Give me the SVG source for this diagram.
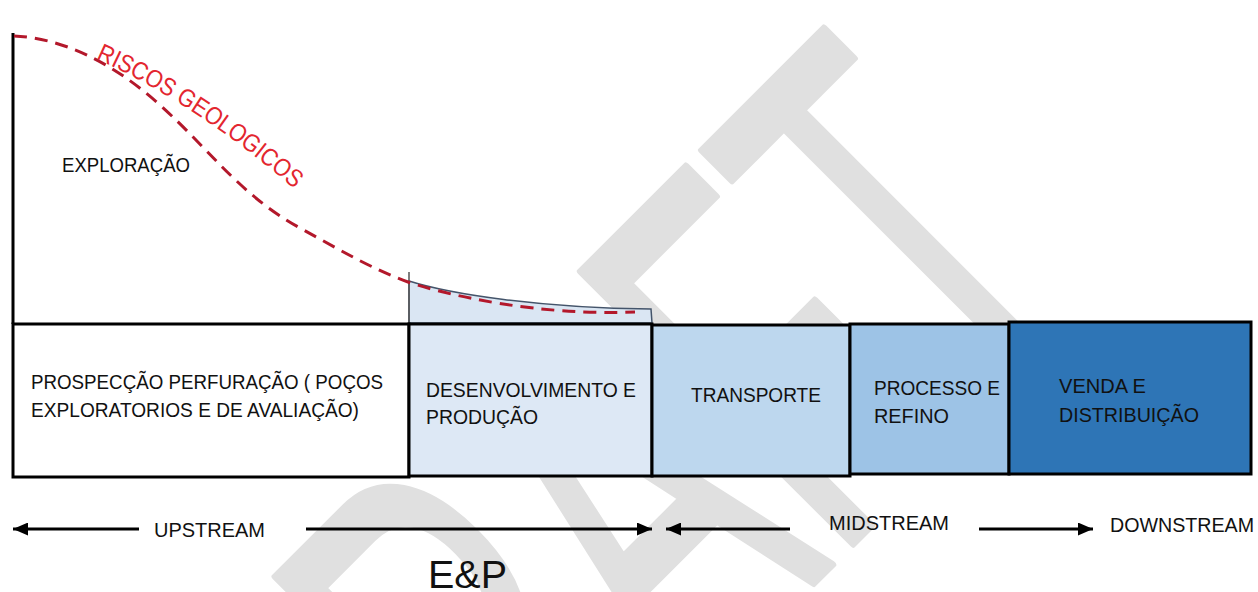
<svg xmlns="http://www.w3.org/2000/svg" width="1258" height="592" viewBox="0 0 1258 592">
<style>
.lbl{font-family:"Liberation Sans Narrow","Liberation Sans",Arial,sans-serif;font-size:21px;fill:#111;}
.box{stroke:#000;stroke-width:3;}
.arr{stroke:#000;stroke-width:3;fill:none;marker-end:url(#ah);}
</style>
<defs>
<marker id="ah" markerUnits="userSpaceOnUse" markerWidth="15" markerHeight="13" refX="15" refY="6.5" orient="auto">
<path d="M0,0 L15,6.5 L0,13 Z" fill="#000"/>
</marker>
<path id="riscoPath" d="M96,59 C162,88 240,138 318,210"/>
</defs>
<rect width="1258" height="592" fill="#fff"/>
<g id="watermark">
<text transform="translate(370,1027) rotate(-45) scale(0.555,1)" font-family="Liberation Sans, Arial, sans-serif" font-size="560" fill="#e0e0e0" stroke="#e0e0e0" stroke-width="7" stroke-linejoin="round">DRAFT</text>
</g>
<g id="axis">
<line x1="13" y1="33" x2="13" y2="324" stroke="#000" stroke-width="3"/>
</g>
<g id="producao-area">
<path d="M409,323 L409,281 C450,294 540,308 651,309 L652,323 Z" fill="#dae6f3" stroke="#44546a" stroke-width="1.5"/>
<line x1="409" y1="272" x2="409" y2="323" stroke="#555" stroke-width="1.5"/>
</g>
<g id="risco-curve">
<path d="M14,36 C60,38 110,60 160,105 C210,150 240,195 300,228 C340,250 370,268 408,282 C450,296 540,316 635,312" fill="none" stroke="#b3182b" stroke-width="3" stroke-dasharray="13,8"/>
<text font-family="Liberation Sans Narrow, Liberation Sans, Arial, sans-serif" font-size="25" fill="#e3262f"><textPath href="#riscoPath" textLength="238" lengthAdjust="spacingAndGlyphs">RISCOS GEOLOGICOS</textPath></text>
</g>
<g id="exploracao">
<text class="lbl" x="62" y="172" textLength="128" lengthAdjust="spacingAndGlyphs">EXPLORAÇÃO</text>
</g>
<g id="prospeccao">
<rect class="box" x="13" y="324" width="396" height="153" fill="#fff"/>
<text class="lbl" x="31" y="389" textLength="352" lengthAdjust="spacingAndGlyphs">PROSPECÇÃO PERFURAÇÃO ( POÇOS</text>
<text class="lbl" x="31" y="417" textLength="328" lengthAdjust="spacingAndGlyphs">EXPLORATORIOS E DE AVALIAÇÃO)</text>
</g>
<g id="desenvolvimento">
<rect class="box" x="409" y="324" width="243" height="152" fill="#dde8f5"/>
<text class="lbl" x="426" y="397" textLength="210" lengthAdjust="spacingAndGlyphs">DESENVOLVIMENTO E</text>
<text class="lbl" x="426" y="424" textLength="112" lengthAdjust="spacingAndGlyphs">PRODUÇÃO</text>
</g>
<g id="transporte">
<rect class="box" x="652" y="325" width="198" height="151" fill="#bdd7ee"/>
<text class="lbl" x="691" y="402" textLength="130" lengthAdjust="spacingAndGlyphs">TRANSPORTE</text>
</g>
<g id="processo">
<rect class="box" x="850" y="324" width="159" height="150" fill="#9dc3e6"/>
<text class="lbl" x="874" y="395" textLength="126" lengthAdjust="spacingAndGlyphs">PROCESSO E</text>
<text class="lbl" x="874" y="423" textLength="75" lengthAdjust="spacingAndGlyphs">REFINO</text>
</g>
<g id="venda">
<rect class="box" x="1009" y="322" width="242" height="152" fill="#2e75b6"/>
<text class="lbl" x="1059" y="393" textLength="87" lengthAdjust="spacingAndGlyphs">VENDA E</text>
<text class="lbl" x="1059" y="422" textLength="140" lengthAdjust="spacingAndGlyphs">DISTRIBUIÇÃO</text>
</g>
<g id="connectors">
<line class="arr" x1="139" y1="529" x2="13" y2="529"/>
<line class="arr" x1="306" y1="529" x2="652" y2="529"/>
<line class="arr" x1="790" y1="529" x2="666" y2="529"/>
<line class="arr" x1="979" y1="529" x2="1093" y2="529"/>
</g>
<g id="stream-labels">
<text class="lbl" x="154" y="537" textLength="111" lengthAdjust="spacingAndGlyphs">UPSTREAM</text>
<text class="lbl" x="829" y="530" textLength="120" lengthAdjust="spacingAndGlyphs">MIDSTREAM</text>
<text class="lbl" x="1110" y="532" textLength="144" lengthAdjust="spacingAndGlyphs">DOWNSTREAM</text>
<text x="428" y="588" font-family="Liberation Sans Narrow, Liberation Sans, Arial, sans-serif" font-size="38" fill="#111" textLength="79" lengthAdjust="spacingAndGlyphs">E&amp;P</text>
</g>
</svg>
